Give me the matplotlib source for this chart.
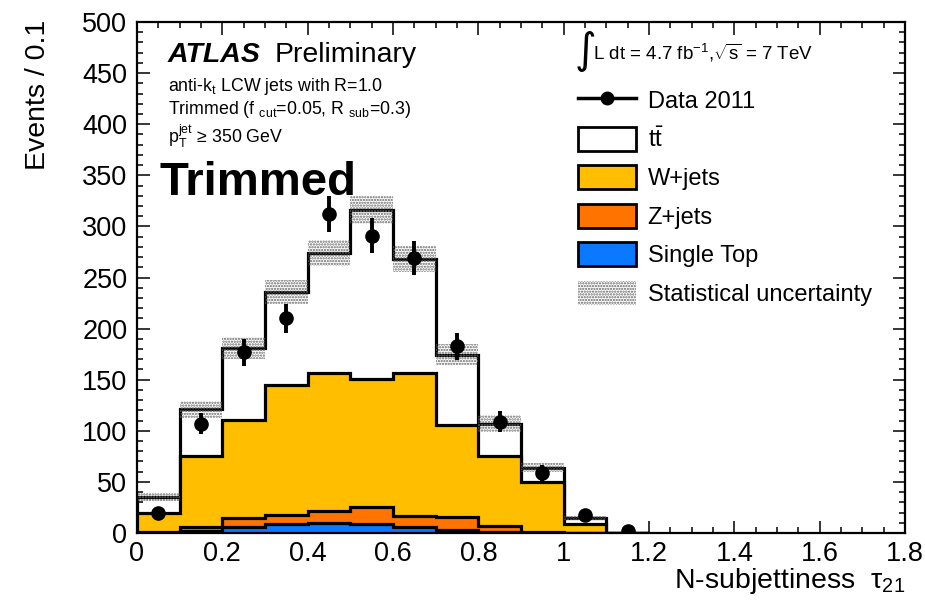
import numpy as np
import matplotlib
matplotlib.use("Agg")
import matplotlib.pyplot as plt
from matplotlib.patches import Patch
from matplotlib.lines import Line2D
from matplotlib.ticker import MultipleLocator

plt.rcParams["font.family"] = ["Liberation Sans", "DejaVu Sans"]
plt.rcParams["mathtext.fontset"] = "custom"
plt.rcParams["mathtext.rm"] = "Liberation Sans"
plt.rcParams["mathtext.it"] = "Liberation Sans:italic"
plt.rcParams["mathtext.bf"] = "Liberation Sans:bold"
plt.rcParams["hatch.linewidth"] = 1.1

# ---- data (bins of width 0.1 in tau21) ----
bin_edges = [0.0, 0.1, 0.2, 0.3, 0.4, 0.5, 0.6, 0.7, 0.8, 0.9, 1.0, 1.1, 1.2]
single_top = [0.0, 2.0, 6.0, 9.0, 10.0, 9.0, 6.0, 3.0, 0.5, 0.0, 0.0, 0.0]
z_jets     = [0.5, 4.0, 8.5, 8.5, 12.0, 16.0, 10.5, 12.5, 6.5, 0.5, 0.0, 0.0]
w_jets     = [19.0, 69.0, 96.0, 127.0, 135.0, 126.0, 140.0, 90.0, 68.0, 49.5, 9.0, 0.0]
ttbar      = [15.5, 46.0, 70.5, 91.5, 117.0, 165.0, 111.5, 69.0, 32.0, 14.0, 6.0, 0.0]
stat_unc   = [4.0, 8.5, 11.0, 12.0, 13.0, 14.0, 13.0, 10.0, 8.5, 4.5, 2.0, 0.0]
data_x     = [0.05, 0.15, 0.25, 0.35, 0.45, 0.55, 0.65, 0.75, 0.85, 0.95, 1.05, 1.15]
data_y     = [20.0, 107.0, 177.0, 210.0, 312.0, 291.0, 269.0, 182.5, 109.0, 58.5, 17.5, 2.0]
data_err   = [4.5, 10.3, 13.3, 14.5, 17.7, 17.1, 16.4, 13.5, 10.4, 7.6, 4.2, 1.4]

W, H = 925, 602
fig = plt.figure(figsize=(W / 100, H / 100), dpi=100)
ax = fig.add_axes([137 / W, 1 - 533 / H, (905 - 137) / W, (533 - 22) / H])

edges = np.array(bin_edges)
c_st = np.array(single_top)
c_z = c_st + np.array(z_jets)
c_w = c_z + np.array(w_jets)
c_tot = c_w + np.array(ttbar)

lw = 2.3
layers = [
    (c_tot, "white"),
    (c_w, "#ffbf00"),
    (c_z, "#ff7400"),
    (c_st, "#0a78ff"),
]
for z, (vals, col) in enumerate(layers):
    ax.stairs(vals, edges, fill=True, facecolor=col, edgecolor="none", zorder=2 + z)
    ax.stairs(vals, edges, fill=False, color="black", lw=lw, zorder=2.5 + z, baseline=0)

# statistical uncertainty band on the total prediction
unc = np.array(stat_unc)
band_col = "#666666"
ax.stairs(c_tot + unc, edges, baseline=c_tot - unc, fill=True, facecolor="none",
          edgecolor=band_col, hatch="......", lw=0, zorder=7)

ax.errorbar(data_x, data_y, yerr=data_err, fmt="o", color="black", ms=9.5,
            elinewidth=2.8, capsize=0, zorder=9)

ax.set_xlim(0, 1.8)
ax.set_ylim(0, 500)
ax.xaxis.set_major_locator(MultipleLocator(0.2))
ax.xaxis.set_minor_locator(MultipleLocator(0.05))
ax.yaxis.set_major_locator(MultipleLocator(50))
ax.yaxis.set_minor_locator(MultipleLocator(10))
ax.set_xticks(np.arange(0, 1.81, 0.2))
ax.set_xticklabels(["0", "0.2", "0.4", "0.6", "0.8", "1", "1.2", "1.4", "1.6", "1.8"])
ax.tick_params(which="both", direction="in", top=True, right=True, width=1.1,
               labelsize=19.5, zorder=20)
ax.tick_params(which="major", length=9)
ax.tick_params(which="minor", length=4.5)
ax.tick_params(axis="x", pad=6)
ax.tick_params(axis="y", pad=7)
for s in ax.spines.values():
    s.set_linewidth(1.6)
    s.set_zorder(20)
ax.set_axisbelow(False)

def px(x, y):
    return x / W, 1 - y / H

fig.text(*px(38, 20), "Events / 0.1", rotation=90, ha="center", va="top", fontsize=20.5)
fig.text(*px(905, 581), "N-subjettiness  τ$_{21}$", ha="right", va="center", fontsize=20.5)

fig.text(*px(168, 62), "ATLAS", fontsize=20.5, fontweight="bold", fontstyle="italic", va="baseline")
fig.text(*px(275, 62), "Preliminary", fontsize=20.5, va="baseline")
fig.text(*px(168, 91), r"anti-k$_{\mathrm{t}}$ LCW jets with R=1.0", fontsize=12.8, va="baseline")
fig.text(*px(168, 114), r"Trimmed (f $_{\mathrm{cut}}$=0.05, R $_{\mathrm{sub}}$=0.3)", fontsize=12.8, va="baseline")
fig.text(*px(168, 143), r"p$_{\mathrm{T}}^{\mathrm{jet}}$ ≥ 350 GeV", fontsize=12.8, va="baseline")
fig.text(*px(160, 195), "Trimmed", fontsize=34, fontweight="bold", va="baseline")

fig.text(*px(575, 51), "∫", fontsize=30, va="center", family="DejaVu Sans")
fig.text(*px(593, 60), r"L dt = 4.7 fb$^{-1}$,$\sqrt{\mathrm{s}}$ = 7 TeV", fontsize=13.5, va="baseline")

handles = [
    Line2D([], [], color="black", lw=2.5, marker="o", ms=9),
    Patch(facecolor="white", edgecolor="black", lw=2),
    Patch(facecolor="#ffbf00", edgecolor="black", lw=2),
    Patch(facecolor="#ff7400", edgecolor="black", lw=2),
    Patch(facecolor="#0a78ff", edgecolor="black", lw=2),
    Patch(facecolor="white", edgecolor=band_col, hatch="......", lw=0),
]
labels = ["Data 2011", r"$\mathrm{t\bar{t}}$", "W+jets", "Z+jets", "Single Top",
          "Statistical uncertainty"]
leg = ax.legend(handles, labels, loc="upper left", bbox_to_anchor=px(578, 88),
                bbox_transform=fig.transFigure, frameon=False, fontsize=17,
                handlelength=2.45, handleheight=1.2, labelspacing=0.57,
                handletextpad=0.5, borderaxespad=0, borderpad=0)
leg.set_zorder(30)

fig.savefig("out.png", dpi=100)
